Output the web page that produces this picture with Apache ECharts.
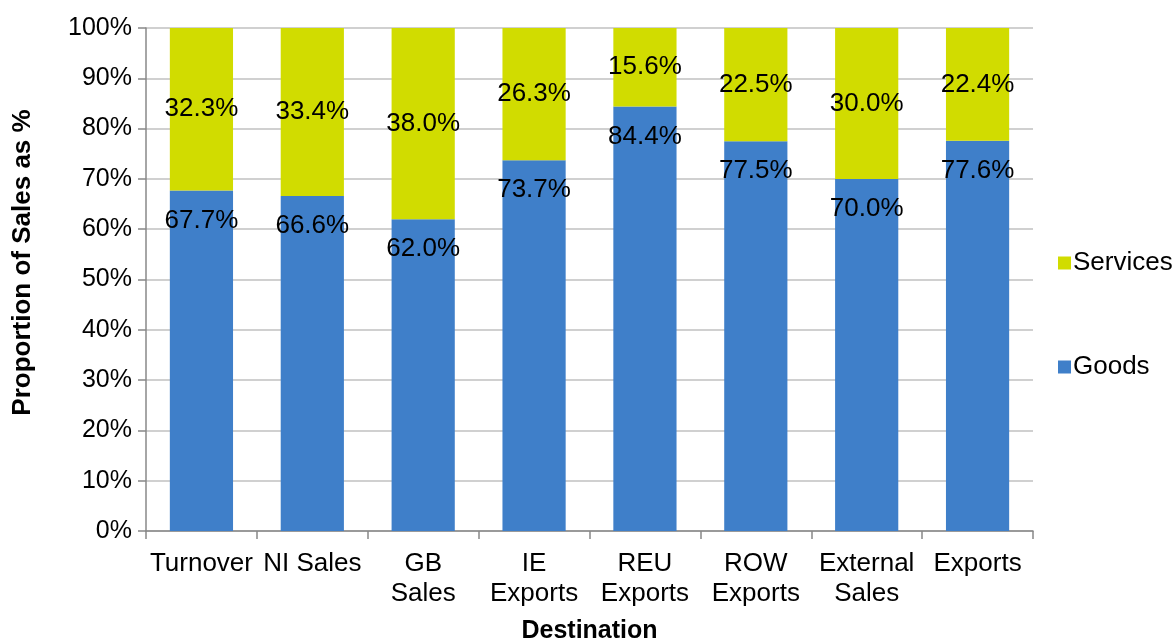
<!DOCTYPE html>
<html><head><meta charset="utf-8">
<script src="https://cdn.jsdelivr.net/npm/echarts@6/dist/echarts.min.js"></script>
<style>html,body{margin:0;padding:0;background:#fff}#c{width:1176px;height:642px}</style>
</head><body><div id="c"></div>
<script>
const categories = ["Turnover", "NI Sales", "GB\nSales", "IE\nExports", "REU\nExports", "ROW\nExports", "External\nSales", "Exports"];
const goods = [67.7, 66.6, 62.0, 73.7, 84.4, 77.5, 70.0, 77.6];
const services = [32.3, 33.4, 38.0, 26.3, 15.6, 22.5, 30.0, 22.4];
const yTicks = [0, 10, 20, 30, 40, 50, 60, 70, 80, 90, 100];

const F = "'Liberation Sans', Arial, sans-serif";
const chart = echarts.init(document.getElementById('c'), null, {renderer: 'canvas'});
chart.setOption({
  animation: false,
  grid: {left: 146, right: 143, top: 28, bottom: 111, containLabel: false, outerBoundsMode: 'none'},
  legend: {
    orient: 'vertical', left: 1053, top: 245, itemWidth: 13, itemHeight: 13, itemGap: 78,
    icon: 'rect',
    data: ['Services', 'Goods'],
    textStyle: {fontFamily: F, fontSize: 26, color: '#000', padding: [0, 0, 0, -3]}
  },
  xAxis: {
    type: 'category', data: categories,
    name: 'Destination', nameLocation: 'middle', nameGap: 88,
    nameTextStyle: {fontFamily: F, fontSize: 25, fontWeight: 'bold', color: '#000'},
    axisLine: {lineStyle: {color: '#888', width: 1.5}},
    axisTick: {show: true, length: 8, lineStyle: {color: '#888', width: 1.5}, alignWithLabel: false},
    axisLabel: {fontFamily: F, fontSize: 26, color: '#000', margin: 18, lineHeight: 30, interval: 0}
  },
  yAxis: {
    type: 'value', min: 0, max: 100, interval: 10,
    name: 'Proportion of Sales as %', nameLocation: 'middle', nameGap: 110, nameRotate: 90,
    nameTextStyle: {fontFamily: F, fontSize: 26, fontWeight: 'bold', color: '#000', padding: [0, 0, 0, 34]},
    axisLine: {show: true, lineStyle: {color: '#888', width: 1.5}},
    axisTick: {show: true, length: 8, lineStyle: {color: '#888', width: 1.5}},
    splitLine: {lineStyle: {color: '#c0c0c0', width: 1.5}},
    axisLabel: {fontFamily: F, fontSize: 25, color: '#000', margin: 14,
      formatter: v => yTicks.includes(v) ? v + '%' : ''}
  },
  series: [
    {
      name: 'Goods', type: 'bar', stack: 's', data: goods, barWidth: '57%',
      itemStyle: {color: '#3F7FC9'},
      label: {show: true, position: 'insideTop', distance: 17, fontFamily: F, fontSize: 26, color: '#000',
        formatter: p => p.value.toFixed(1) + '%'}
    },
    {
      name: 'Services', type: 'bar', stack: 's', data: services, barWidth: '57%',
      itemStyle: {color: '#D1DC00'},
      label: {show: true, position: 'inside', fontFamily: F, fontSize: 26, color: '#000',
        formatter: p => p.value.toFixed(1) + '%'}
    }
  ]
});
</script></body></html>
